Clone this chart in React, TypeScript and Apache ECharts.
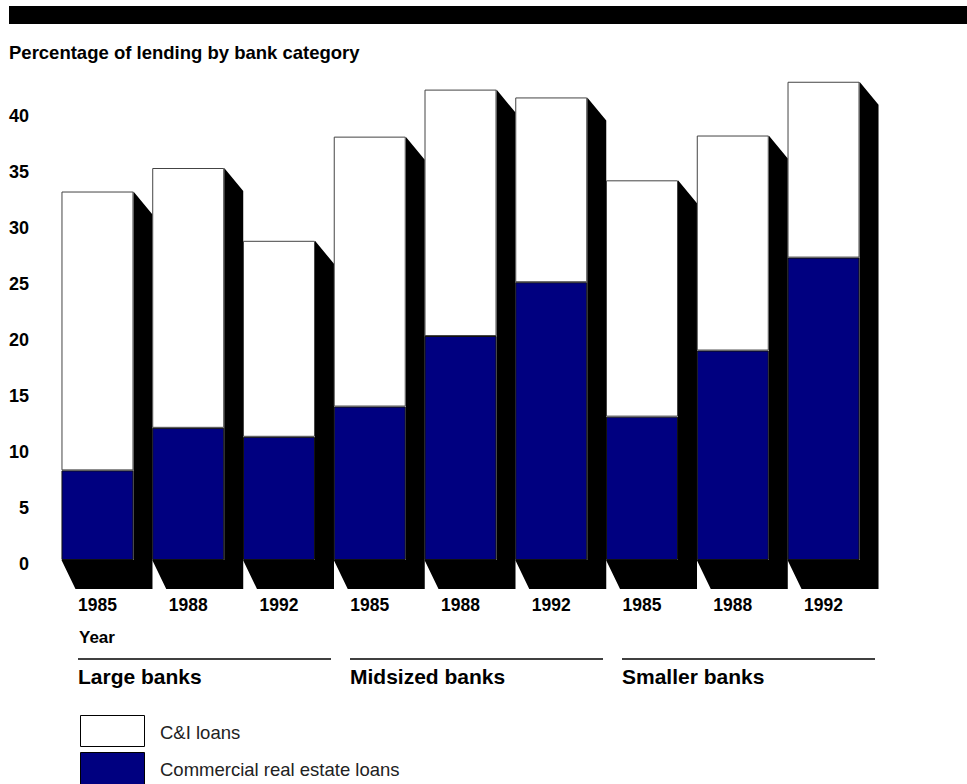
import React, { useEffect, useRef } from "react";
import * as echarts from "echarts";

const groups = ["Large banks", "Midsized banks", "Smaller banks"];
const years = ["1985", "1988", "1992"];
const commercialRealEstate = [8.0, 11.8, 11.0, 13.7, 20.0, 24.8, 12.8, 18.7, 27.0];
const cAndI = [24.9, 23.2, 17.5, 24.1, 22.0, 16.5, 21.1, 19.2, 15.7];
const yTicks = [0, 5, 10, 15, 20, 25, 30, 35, 40];

const FONT = "'Liberation Sans', Arial, Helvetica, sans-serif";
const BAR_W = 72;
const SH_X = 19;
const SH_TOP = 23;
const SH_BOT = 29;
const SH_BOT_X = 14;

export default function App() {
  const ref = useRef<HTMLDivElement>(null);
  useEffect(() => {
    if (!ref.current) return;
    const chart = echarts.init(ref.current, undefined, { renderer: "svg" });
    const categories = groups.flatMap((g) => years.map((y) => `${g}|${y}`));
    const totals = cAndI.map((v, i) => v + commercialRealEstate[i]);
    const option: any = {
      animation: false,
      grid: { left: 52.1, right: 98.1, top: 56, bottom: 224, containLabel: false },
      xAxis: {
        type: "category",
        data: categories,
        axisLine: { show: false },
        axisTick: { show: false },
        axisLabel: {
          margin: 36,
          fontFamily: FONT,
          fontWeight: "bold",
          fontSize: 17.5,
          color: "#000",
          formatter: (v: string) => v.split("|")[1],
        },
      },
      yAxis: {
        type: "value",
        min: 0,
        max: 45,
        interval: 5,
        splitLine: { show: false },
        axisLine: { show: false },
        axisTick: { show: false },
        axisLabel: {
          margin: 23,
          fontFamily: FONT,
          fontWeight: "bold",
          fontSize: 18,
          color: "#000",
          verticalAlign: "top",
          lineHeight: 8,
          formatter: (v: number) => (yTicks.includes(v) ? String(v) : ""),
        },
      },
      series: [
        {
          type: "custom",
          name: "shadow",
          z: 1,
          silent: true,
          data: totals.map((t, i) => [i, t]),
          encode: { x: 0, y: 1 },
          renderItem: (params: any, api: any) => {
            const i = api.value(0);
            const total = api.value(1);
            const [cx, top] = api.coord([i, total]);
            const base = api.coord([i, 0])[1];
            const x0 = cx - BAR_W / 2;
            const x1 = cx + BAR_W / 2;
            return {
              type: "polygon",
              shape: {
                points: [
                  [x1, top],
                  [x1 + SH_X, top + SH_TOP],
                  [x1 + SH_X, base + SH_BOT],
                  [x0 + SH_BOT_X, base + SH_BOT],
                  [x0, base],
                  [x1, base],
                ],
              },
              style: { fill: "#000" },
            };
          },
        },
        {
          type: "bar",
          name: "Commercial real estate loans",
          stack: "a",
          z: 2,
          barWidth: BAR_W,
          data: commercialRealEstate,
          itemStyle: { color: "#000080", borderColor: "#111", borderWidth: 1 },
        },
        {
          type: "bar",
          name: "C&I loans",
          stack: "a",
          z: 2,
          barWidth: BAR_W,
          data: cAndI,
          itemStyle: { color: "#ffffff", borderColor: "#444", borderWidth: 1 },
        },
      ],
      graphic: [
        { type: "rect", shape: { x: 9, y: 6, width: 958, height: 18 }, style: { fill: "#000" } },
        {
          type: "text",
          x: 9,
          y: 52,
          style: {
            text: "Percentage of lending by bank category",
            font: `bold 18.5px ${FONT}`,
            fill: "#000",
            verticalAlign: "middle",
          },
        },
        {
          type: "text",
          x: 79,
          y: 637,
          style: { text: "Year", font: `bold 17px ${FONT}`, fill: "#000", verticalAlign: "middle" },
        },
        { type: "line", shape: { x1: 78, y1: 659, x2: 331, y2: 659 }, style: { stroke: "#000", lineWidth: 1.3 } },
        { type: "line", shape: { x1: 350, y1: 659, x2: 603, y2: 659 }, style: { stroke: "#000", lineWidth: 1.3 } },
        { type: "line", shape: { x1: 622, y1: 659, x2: 875, y2: 659 }, style: { stroke: "#000", lineWidth: 1.3 } },
        ...groups.map((g, i) => ({
          type: "text",
          x: [78, 350, 622][i],
          y: 676,
          style: { text: g, font: `bold 21px ${FONT}`, fill: "#000", verticalAlign: "middle" },
        })),
        {
          type: "rect",
          shape: { x: 80.5, y: 715.5, width: 64, height: 31 },
          style: { fill: "#fff", stroke: "#000", lineWidth: 1 },
        },
        {
          type: "rect",
          shape: { x: 80.5, y: 752.5, width: 64, height: 40 },
          style: { fill: "#000080", stroke: "#000", lineWidth: 1 },
        },
        {
          type: "text",
          x: 160,
          y: 732,
          style: { text: "C&I loans", font: `18.5px ${FONT}`, fill: "#222", verticalAlign: "middle" },
        },
        {
          type: "text",
          x: 160,
          y: 769,
          style: {
            text: "Commercial real estate loans",
            font: `18.5px ${FONT}`,
            fill: "#222",
            verticalAlign: "middle",
          },
        },
      ],
    };
    chart.setOption(option);
    return () => chart.dispose();
  }, []);
  return (
    <div
      ref={ref}
      style={{ position: "absolute", left: 0, top: 0, width: 967, height: 784, background: "#fff" }}
    />
  );
}
